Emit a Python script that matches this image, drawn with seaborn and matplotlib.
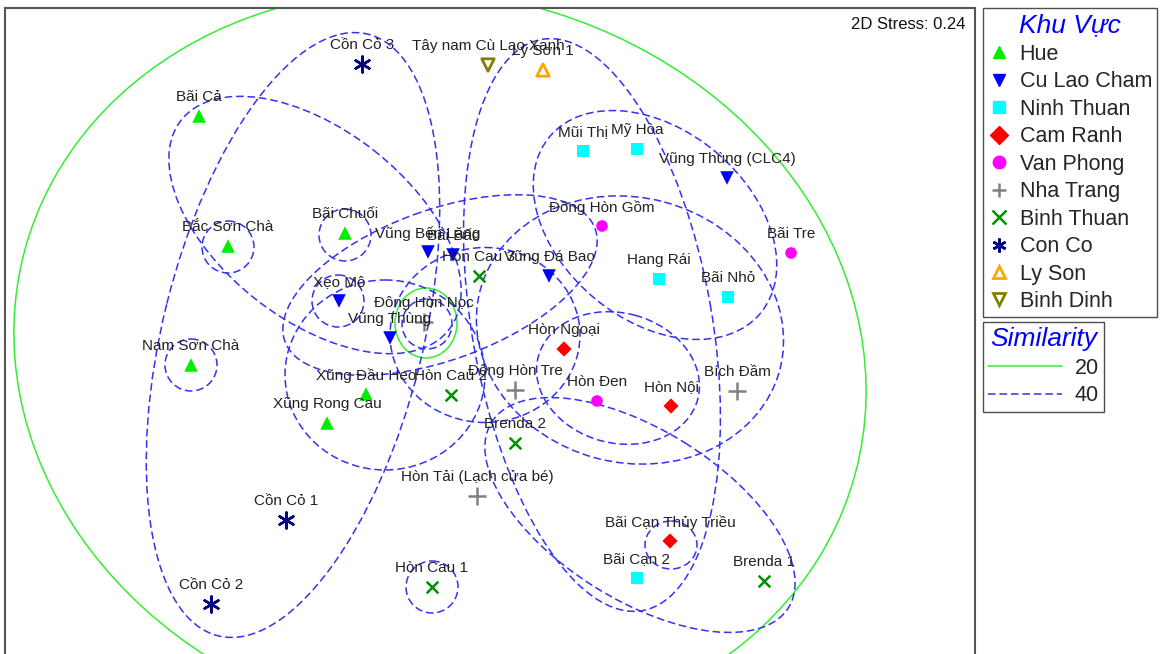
import matplotlib
matplotlib.use("Agg")
import matplotlib.pyplot as plt
from matplotlib.patches import Ellipse
from matplotlib.lines import Line2D
import pandas as pd
import seaborn as sns

# --- nMDS ordination of sites (screen-aligned units) ---
site_names = [
    "Bãi Cả", "Bắc Sơn Chà", "Bãi Chuối", "Nam Sơn Chà", "Xũng Đầu Heo", "Xũng Rong Cau",
    "Vũng Bến Lăng", "Bãi Bấc", "Xẹo Mô", "Vũng Thùng", "Vũng Đá Bao", "Vũng Thùng (CLC4)",
    "Mũi Thị", "Mỹ Hòa", "Hang Rái", "Bãi Nhỏ", "Bãi Cạn 2",
    "Hòn Ngoại", "Hòn Nội", "Bãi Cạn Thủy Triều",
    "Đông Hòn Gồm", "Bãi Tre", "Hòn Đen",
    "Đông Hòn Tre", "Bích Đầm", "Hòn Tải (Lạch cửa bé)", "Đông Hòn Nọc",
    "Hòn Cau 3", "Hòn Cau 2", "Brenda 2", "Hòn Cau 1", "Brenda 1",
    "Cồn Cỏ 3", "Cồn Cỏ 1", "Cồn Cỏ 2",
    "Lý Sơn 1",
    "Tây nam Cù Lao Xanh",
]
site_region = (
    ["Hue"] * 6 + ["Cu Lao Cham"] * 6 + ["Ninh Thuan"] * 5 + ["Cam Ranh"] * 3
    + ["Van Phong"] * 3 + ["Nha Trang"] * 4 + ["Binh Thuan"] * 5 + ["Con Co"] * 3
    + ["Ly Son"] + ["Binh Dinh"]
)
mds1 = [199, 228, 345, 191, 366, 327,
        428, 453, 339, 390, 549, 727,
        583, 637, 659, 728, 637,
        564, 671, 670,
        602, 791, 597,
        515, 737, 477, 424,
        479, 451, 515, 432, 764,
        362, 286, 211,
        543,
        488]
mds2 = [116, 246, 233, 365, 394, 423,
        252, 255, 301, 338, 276, 178,
        151, 149, 279, 297, 578,
        349, 406, 541,
        226, 253, 401,
        390, 391, 496, 322,
        276, 395, 443, 587, 581,
        64, 520, 604,
        70,
        65]

regions = ["Hue", "Cu Lao Cham", "Ninh Thuan", "Cam Ranh", "Van Phong",
           "Nha Trang", "Binh Thuan", "Con Co", "Ly Son", "Binh Dinh"]
region_colors = ["#00ee00", "#0000ff", "#00ffff", "#ff0000", "#ff00ff",
                 "#808080", "#009000", "#000080", "#ffa500", "#808000"]
region_markers = ["^", "v", "s", "D", "o", "+", "x", (6, 2, 0), "^", "v"]
region_filled = [True, True, True, True, True, False, False, False, False, False]
region_hollow = [False] * 8 + [True, True]
region_sizes = [95, 95, 75, 60, 70, 150, 70, 130, 80, 80]

# --- similarity contours (centre x, centre y, width, height, angle) ---
sim20_cx = [440, 426]
sim20_cy = [362, 323]
sim20_w = [860, 62]
sim20_h = [735, 70]
sim20_ang = [15, 0]

sim40_cx = [228, 191, 345, 338, 432, 671, 427,
            315, 293, 385, 440, 485, 592, 655, 630, 618, 640]
sim40_cy = [247, 365, 235, 301, 587, 545, 324,
            225, 335, 375, 285, 335, 325, 225, 330, 378, 515]
sim40_w = [52, 52, 52, 52, 52, 52, 50,
           340, 620, 200, 330, 190, 580, 275, 310, 165, 350]
sim40_h = [52, 52, 52, 52, 52, 48, 50,
           190, 260, 190, 150, 175, 240, 190, 265, 130, 170]
sim40_ang = [0, 0, 0, 0, 0, 0, 0,
             38, -76, 0, -20, 0, 80, 40, 15, 15, 32]

df = pd.DataFrame({"site": site_names, "region": site_region,
                   "MDS1": mds1, "MDS2": mds2})

sns.set_theme(style="white")
plt.rcParams["font.family"] = ["Liberation Sans", "DejaVu Sans"]

fig = plt.figure(figsize=(11.6, 6.54), dpi=100)
ax = fig.add_axes([5 / 1160, 0, 970 / 1160, 646 / 654])
ax.set_xlim(5, 975)
ax.set_ylim(654, 8)
ax.set_xticks([])
ax.set_yticks([])
for side in ["left", "top", "right"]:
    ax.spines[side].set_color("#555555")
    ax.spines[side].set_linewidth(1.5)
ax.spines["bottom"].set_visible(False)

# contours
for cx, cy, w, h, a in zip(sim20_cx, sim20_cy, sim20_w, sim20_h, sim20_ang):
    ax.add_patch(Ellipse((cx, cy), w, h, angle=a, fill=False,
                         edgecolor="#33ee33", lw=1.1, zorder=1))
for cx, cy, w, h, a in zip(sim40_cx, sim40_cy, sim40_w, sim40_h, sim40_ang):
    ax.add_patch(Ellipse((cx, cy), w, h, angle=a, fill=False,
                         edgecolor="#3333ee", lw=1.1, ls=(0, (5, 2.5)), zorder=1))

# points, one group at a time
handles = []
for reg, col, mk, filled, hollow, sz in zip(regions, region_colors, region_markers,
                                            region_filled, region_hollow, region_sizes):
    sub = df[df["region"] == reg]
    if hollow:
        sns.scatterplot(data=sub, x="MDS1", y="MDS2", marker=mk, s=sz,
                        facecolors="none", edgecolors=col, linewidth=2,
                        ax=ax, zorder=3, legend=False)
        h = Line2D([], [], ls="none", marker=mk, markersize=9, markerfacecolor="none",
                   markeredgecolor=col, markeredgewidth=2)
    elif filled:
        sns.scatterplot(data=sub, x="MDS1", y="MDS2", marker=mk, s=sz,
                        color=col, edgecolor="none", linewidth=0,
                        ax=ax, zorder=3, legend=False)
        h = Line2D([], [], ls="none", marker=mk, markersize=9 if mk != "s" else 8,
                   markerfacecolor=col, markeredgecolor=col)
    else:
        sns.scatterplot(data=sub, x="MDS1", y="MDS2", marker=mk, s=sz,
                        color=col, linewidth=1.8, ax=ax, zorder=3, legend=False)
        h = Line2D([], [], ls="none", marker=mk, markersize=10, color=col,
                   markeredgewidth=1.8)
    handles.append(h)
ax.set_xlabel("")
ax.set_ylabel("")

for _, r in df.iterrows():
    ax.annotate(r["site"], (r["MDS1"], r["MDS2"]), xytext=(0, 13.5),
                textcoords="offset points", ha="center", va="center",
                fontsize=11, color="#222222", zorder=4)

ax.text(966, 17, "2D Stress: 0.24", ha="right", va="top",
        fontsize=12, color="#111111")

leg1 = fig.legend(handles, regions, loc="upper left",
                  bbox_to_anchor=(983 / 1160, 1 - 8 / 654), frameon=True,
                  fancybox=False, edgecolor="#222222", fontsize=15.5,
                  title="Khu Vực", title_fontproperties={"size": 19, "style": "italic"},
                  handlelength=1.0, handletextpad=0.45, labelspacing=0.3,
                  borderpad=0.25, borderaxespad=0)
leg1.get_title().set_color("#0000ff")
leg1.get_frame().set_linewidth(1.0)

sim_handles = [Line2D([], [], color="#33ee33", lw=1.1),
               Line2D([], [], color="#3333ee", lw=1.1, ls=(0, (5, 2.5)))]
leg2 = fig.legend(sim_handles, ["20", "40"], loc="upper left",
                  bbox_to_anchor=(983 / 1160, 1 - 322 / 654), frameon=True,
                  fancybox=False, edgecolor="#222222", fontsize=15.5,
                  title="Similarity", title_fontproperties={"size": 19, "style": "italic"},
                  handlelength=3.4, handletextpad=0.6, labelspacing=0.3,
                  borderpad=0.25, borderaxespad=0)
leg2.get_title().set_color("#0000ff")
leg2.get_frame().set_linewidth(1.0)

fig.savefig("out.png", dpi=100)
